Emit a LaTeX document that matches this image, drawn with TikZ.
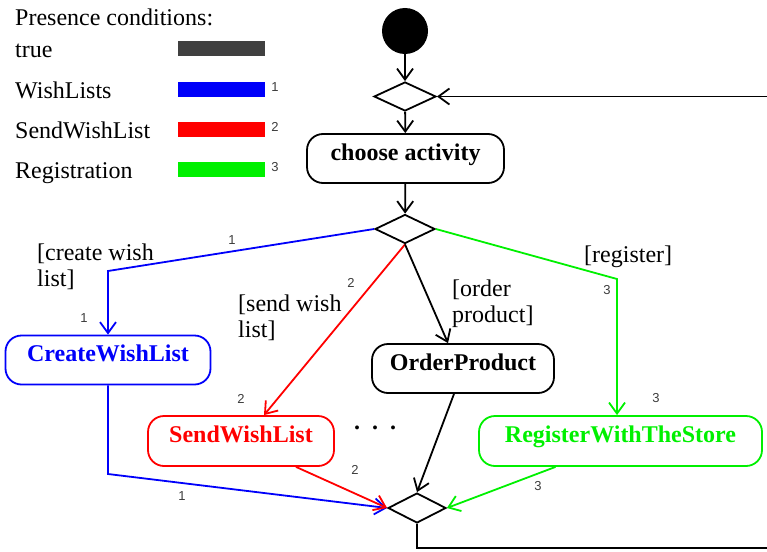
\documentclass[tikz,border=0pt]{standalone}
\usepackage{fontspec}
\setmainfont{Liberation Serif}
\newfontfamily\numfont{Liberation Sans}
\usetikzlibrary{arrows.meta,shapes.geometric}
\definecolor{cblue}{RGB}{0,0,250}
\definecolor{cred}{RGB}{255,0,0}
\definecolor{cgreen}{RGB}{0,240,0}
\definecolor{cgray}{RGB}{64,64,64}
\definecolor{numgray}{RGB}{60,60,60}
\begin{document}
\begin{tikzpicture}[x=1pt,y=-1pt,
  every node/.style={inner sep=0pt},
  txt/.style={font=\fontsize{24}{26}\selectfont, align=left},
  num/.style={font=\numfont\fontsize{13}{13}\selectfont, text=numgray},
  act/.style={draw, rounded corners=16pt, line width=1.8pt, font=\fontsize{24}{26}\selectfont\bfseries, minimum height=49pt, text height=16pt, text depth=13pt},
  dec/.style={draw, diamond, line width=1.8pt, minimum width=60pt, minimum height=29pt},
  flow/.style={line width=1.8pt, -{Straight Barb[length=11pt,width=16pt]}},
  plain/.style={line width=1.8pt},
  bar/.style={minimum width=87pt, minimum height=15pt}
]
\useasboundingbox (0,0) rectangle (767,551);

% legend
\node[txt, anchor=base west] (lt) at (15,26) {Presence conditions:};
\node[txt, anchor=base west] (l0) at (15,57) {true};
\node[txt, anchor=base west] (l1) at (15,98) {WishLists};
\node[txt, anchor=base west] (l2) at (15,138) {SendWishList};
\node[txt, anchor=base west] (l3) at (15,178) {Registration};
\node[bar, fill=cgray] (b0) at (221.5,48.5) {};
\node[bar, fill=cblue] (b1) at (221.5,89) {};
\node[bar, fill=cred] (b2) at (221.5,129) {};
\node[bar, fill=cgreen] (b3) at (221.5,169.5) {};
\node[num] (n1) at (275,87) {1};
\node[num] (n2) at (275,127) {2};
\node[num] (n3) at (275,167) {3};

% main nodes
\node[circle, fill=black, minimum size=46pt] (init) at (405,31) {};
\node[dec, minimum width=62pt] (d1) at (405,96.5) {};
\node[act, minimum width=197pt] (choose) at (405.5,158.5) {choose activity};
\node[dec] (d2) at (405,229) {};
\node[act, draw=cblue, text=cblue, minimum width=205pt] (cwl) at (108,360) {CreateWishList};
\node[act, draw=cred, text=cred, minimum width=186pt, minimum height=50pt] (swl) at (241,441) {SendWishList};
\node[act, minimum width=182pt] (op) at (463,368.5) {OrderProduct};
\node[act, draw=cgreen, text=cgreen, minimum width=283pt, minimum height=50pt] (rws) at (620.5,441) {RegisterWithTheStore};
\node[dec, minimum width=58pt, minimum height=30pt] (d3) at (417,508) {};
\node[font=\fontsize{24}{26}\selectfont\bfseries] (dots) at (375,428) {.\hspace{12pt}.\hspace{12pt}.};

% bend coordinates
\coordinate (bk1) at (108,271);
\coordinate (bk2) at (108,474);
\coordinate (bk3) at (617,279);
\coordinate (bk4) at (417,548);
\coordinate (loopR) at (768,548);
\coordinate (loopT) at (768,96.5);

% connectors
\draw[flow] (init) -- (d1);
\draw[flow] (d1) -- (choose);
\draw[flow] (choose) -- (d2);
\draw[flow] (loopT) -- (d1.east);
\draw[plain] (d3.south) -- (bk4) -- (loopR);

\draw[flow, cblue] (d2.west) -- (bk1) -- (bk1 |- cwl.north);
\draw[flow, cblue] (cwl.south) -- (bk2) -- (d3.west);
\draw[flow, cred] (d2.south) -- ([xshift=23pt]swl.north);
\draw[flow, cred] ([xshift=55pt]swl.south) -- (d3.west);
\draw[flow] (d2.south) -- ([xshift=-15pt]op.north);
\draw[flow] ([xshift=-9pt]op.south) -- (d3.north);
\draw[flow, cgreen] (d2.east) -- (bk3) -- (bk3 |- rws.north);
\draw[flow, cgreen] ([xshift=-65pt]rws.south) -- (d3.east);

% guards
\node[txt, anchor=north west] (g1) at (37,244) {[create wish\\list]};
\node[txt, anchor=north west] (g2) at (238,295) {[send wish\\list]};
\node[txt, anchor=north west] (g3) at (452,280) {[order\\product]};
\node[txt, anchor=base west] (g4) at (584,262) {[register]};

% condition numbers
\node[num] at (232,240) {1};
\node[num] at (84,318) {1};
\node[num] at (182,496) {1};
\node[num] at (351,283) {2};
\node[num] at (241,399) {2};
\node[num] at (355,470) {2};
\node[num] at (607,290) {3};
\node[num] at (656,398) {3};
\node[num] at (538,486) {3};
\end{tikzpicture}
\end{document}
